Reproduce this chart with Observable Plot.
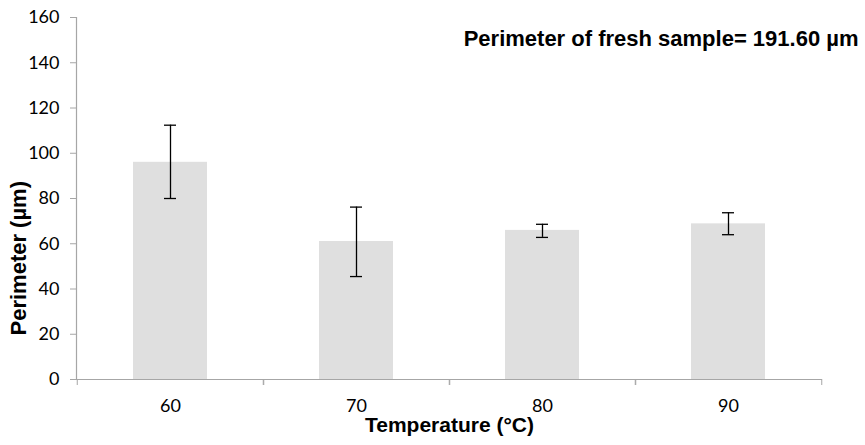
<!DOCTYPE html>
<html>
<head>
<meta charset="utf-8">
<script src="https://cdn.jsdelivr.net/npm/d3@7"></script>
<script src="https://cdn.jsdelivr.net/npm/@observablehq/plot@0.6"></script>
<style>
  html, body { margin: 0; padding: 0; background: #fff; }
</style>
</head>
<body>
<div id="chart"></div>
<script>
const temperatures = ["60", "70", "80", "90"];
const perimeterMeans = [96.0, 61.0, 65.9, 68.8];
const errorLow = [80.0, 45.5, 62.8, 64.0];
const errorHigh = [112.4, 76.2, 68.6, 73.7];
const yTicks = [0, 20, 40, 60, 80, 100, 120, 140, 160];
const xTitle = "Temperature (°C)";
const yTitle = "Perimeter (µm)";
const note = "Perimeter of fresh sample= 191.60 µm";

const data = temperatures.map((t, i) => ({t, mean: perimeterMeans[i], lo: errorLow[i], hi: errorHigh[i]}));

const W = 865, H = 445, ML = 76, MR = 43, MT = 17, MB = 66;
const step = (W - ML - MR) / temperatures.length;
const axisGray = "#a6a6a6";
const tickFont = "Lato, 'Open Sans', sans-serif";
const boldFont = "'Liberation Sans', Arial, sans-serif";

const chart = Plot.plot({
  width: W, height: H,
  marginLeft: ML, marginRight: MR, marginTop: MT, marginBottom: MB,
  style: {fontFamily: tickFont, background: "#fff", overflow: "visible"},
  x: {domain: temperatures, paddingInner: 0.6, paddingOuter: 0.3, label: null},
  y: {domain: [0, 160], ticks: yTicks, label: null},
  marks: [
    Plot.barY(data, {x: "t", y: "mean", fill: "#dfdfdf"}),
    Plot.ruleX(data, {x: "t", y1: "lo", y2: "hi", stroke: "#000", strokeWidth: 1.3}),
    Plot.tickY(data, {x: "t", y: "lo", insetLeft: 31, insetRight: 31, stroke: "#000", strokeWidth: 1.3}),
    Plot.tickY(data, {x: "t", y: "hi", insetLeft: 31, insetRight: 31, stroke: "#000", strokeWidth: 1.3}),
    Plot.ruleY([0], {stroke: axisGray, strokeWidth: 1.2}),
    Plot.frame({anchor: "left", stroke: axisGray, strokeWidth: 1.2}),
    Plot.axisY({ticks: yTicks, tickSize: 6, tickFormat: () => "", stroke: axisGray, label: null}),
    Plot.axisY({ticks: yTicks, tickSize: 0, tickPadding: 17, fontSize: 18, fill: "#000", label: null}),
    Plot.axisX({tickSize: 0, tickPadding: 20, fontSize: 18, fill: "#000", label: null}),
    Plot.axisX({tickSize: 6, tickFormat: () => "", stroke: axisGray, dx: -step / 2, label: null}),
    Plot.axisX({tickSize: 6, tickFormat: () => "", stroke: axisGray, dx: step / 2, label: null}),
    Plot.text([xTitle], {frameAnchor: "bottom", dy: 52, text: d => d, fontFamily: boldFont, fontWeight: "bold", fontSize: 21, fill: "#000"}),
    Plot.text([yTitle], {frameAnchor: "bottom-left", textAnchor: "start", dx: -51, dy: -44, rotate: -90, text: d => d, fontFamily: boldFont, fontWeight: "bold", fontSize: 22, fill: "#000"}),
    Plot.text([note], {frameAnchor: "top-right", dx: 36, dy: 13, textAnchor: "end", text: d => d, fontFamily: boldFont, fontWeight: "bold", fontSize: 22, fill: "#000"})
  ]
});
document.getElementById("chart").appendChild(chart);
</script>
</body>
</html>
